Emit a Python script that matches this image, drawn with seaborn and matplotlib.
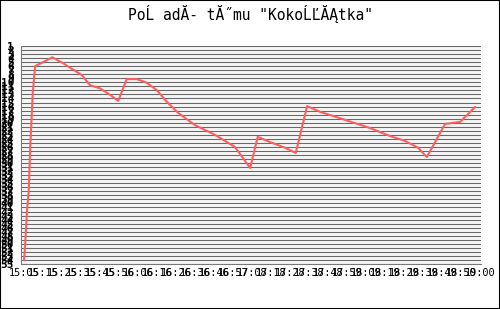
import numpy as np
import pandas as pd
import matplotlib
matplotlib.use("Agg")
import matplotlib.pyplot as plt
import seaborn as sns
from matplotlib.patches import Rectangle

# ---- data ----
title = 'PoĹ adĂ- tĂ˝mu "KokoĹĽĂĄtka"'
minutes = [0, 0.5, 1, 1.6, 2.5, 2.8, 3.2, 4.1, 4.6, 5.8, 14.9, 20.7, 26, 30.4, 34.7,
           40, 45.3, 49.6, 54, 59.3, 64.2, 69.8, 75.1, 81.2, 90, 100.5, 111, 119,
           123, 129.5, 137.4, 143, 149, 155.8, 169, 182, 192.6, 200.5, 207.4, 212,
           221.6, 229.5, 237.4]
ranks = [54, 51, 46.5, 41.6, 36.6, 32.4, 26.7, 17.6, 12.6, 6, 3.8, 5.3, 6.9, 8.2, 10.7,
         11.5, 13.1, 14.6, 9.2, 9.2, 10, 11.9, 14.8, 17.6, 20.6, 23, 26, 31.2,
         23.5, 24.8, 26.2, 27.5, 15.9, 17.3, 19.3, 21.3, 23.3, 24.5, 26.2, 28.5,
         20.3, 19.8, 16.1]
x_labels = ["15:05", "15:15", "15:25", "15:35", "15:45", "15:56", "16:06", "16:16",
            "16:26", "16:36", "16:46", "16:57", "17:08", "17:18", "17:28", "17:38",
            "17:48", "17:59", "18:09", "18:19", "18:29", "18:39", "18:49", "18:50",
            "19:00"]
label_minutes = [10 * k for k in range(len(x_labels))]
rank_ticks = list(range(1, 56))

sns.set_theme(style="white")
plt.rcParams['font.family'] = ['DejaVu Sans Mono', 'DejaVu Sans']

fig = plt.figure(figsize=(5, 3.09), dpi=100)
fig.patch.set_facecolor('white')
ax = fig.add_axes([21 / 500, 1 - 264 / 309, 459.6 / 500, 218 / 309])
ax.set_facecolor('#f7f7f7')

df = pd.DataFrame({'t': minutes, 'rank': ranks})
sns.lineplot(data=df, x='t', y='rank', ax=ax, color='#ff5f5f', linewidth=1.5)

ax.set_xlim(-1.6, 240.3)
ax.set_ylim(55, 1)
ax.set_yticks(rank_ticks)
ax.set_yticklabels([str(r) for r in rank_ticks], fontsize=8, fontweight='bold')
ax.grid(axis='y', color='#6a6a6a', lw=0.8)
ax.grid(axis='x', visible=False)
ax.set_axisbelow(True)

ax.set_xticks(label_minutes)
ax.set_xticklabels(x_labels, fontsize=7.4)
ax.set_xticks(np.linspace(-1.6, 240.3, 45), minor=True)
ax.tick_params(axis='x', which='major', length=0, pad=3, colors='black')
ax.tick_params(axis='x', which='minor', length=3, direction='in', color='#555555', width=0.75)
ax.tick_params(axis='y', length=0, pad=5, colors='black')
for s in ['top', 'right']:
    ax.spines[s].set_visible(False)
for s in ['left', 'bottom']:
    ax.spines[s].set_color('#777777')
    ax.spines[s].set_linewidth(0.75)
ax.set_xlabel('')
ax.set_ylabel('')

fig.text(0.5, 1 - 14 / 309, title, ha='center', va='center', fontsize=10.5, color='black')
fig.add_artist(Rectangle((0, 0), 1, 1, transform=fig.transFigure, fill=False,
                         ec='black', lw=1.5))

fig.savefig('out.png', dpi=100)
